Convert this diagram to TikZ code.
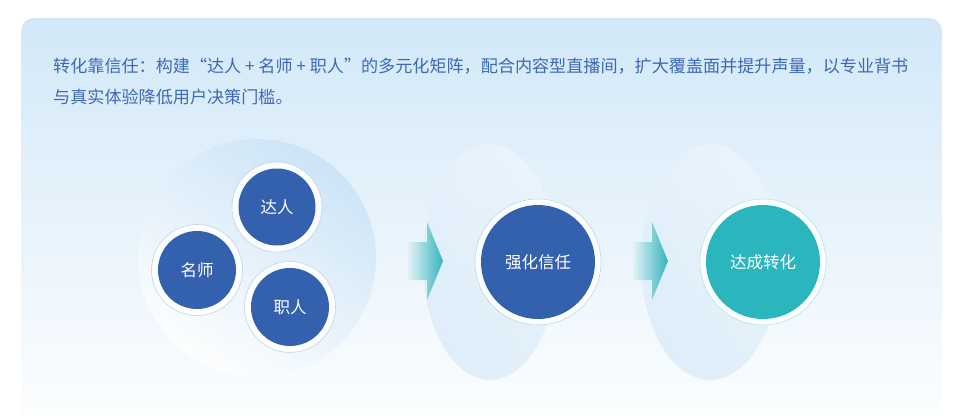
\documentclass[tikz,border=0pt]{standalone}
\usepackage{fontspec}
\setmainfont{Noto Sans CJK SC}

\definecolor{deepblue}{HTML}{3461AD}
\definecolor{tealcore}{HTML}{2BB5BD}
\definecolor{textblue}{HTML}{3D69B5}
\definecolor{paneltop}{HTML}{D2E8F8}
\definecolor{panelmid}{HTML}{E7F3FC}
\definecolor{haloblue}{HTML}{C9E3F7}
\definecolor{ringline}{HTML}{C3D5E6}
\definecolor{arrowtip}{HTML}{34B4BE}
\definecolor{arrowtail}{HTML}{E3F2F8}

\tikzset{
    intro/.style={anchor=base west, text=textblue, inner sep=0pt,
        font=\fontsize{17.1}{20}\selectfont},
    ring/.style={circle, fill=white, fill opacity=0.9, draw=ringline, line width=0.6pt, inner sep=0pt},
    core/.style={circle, fill=deepblue, text=white, inner sep=0pt,
        font=\fontsize{16.5}{20}\selectfont},
    halo/.style={left color=panelmid!60!white, right color=haloblue, shading angle=-30, fill opacity=0.5},
    arrowbody/.style={left color=arrowtail, right color=arrowtip}
}

\begin{document}
\begin{tikzpicture}[x=1pt, y=-1pt]
    \useasboundingbox (0,0) rectangle (960,417);
    % panel
    \path[rounded corners=13pt, top color=paneltop, middle color=panelmid, bottom color=white]
        (21,18) rectangle (942,445);

    % intro text
    \node[intro] (line1) at (53,73) {转化靠信任：构建“达人 + 名师 + 职人”的多元化矩阵，配合内容型直播间，扩大覆盖面并提升声量，以专业背书};
    \node[intro] (line2) at (53,104) {与真实体验降低用户决策门槛。};

    % halos
    \shade[top color=haloblue, bottom color=white, shading angle=-35, fill opacity=0.85] (257,258) circle (119);
    \shade[halo] (490,262) ellipse (67 and 118);
    \shade[halo] (710,262) ellipse (69 and 118);

    % matrix of three
    \node[ring, minimum size=90] (daren-ring) at (277,207) {};
    \node[core, minimum size=77] (daren) at (daren-ring) {达人};
    \node[ring, minimum size=91] (mingshi-ring) at (197,270) {};
    \node[core, minimum size=78] (mingshi) at (mingshi-ring) {名师};
    \node[ring, minimum size=91] (zhiren-ring) at (290,307) {};
    \node[core, minimum size=78] (zhiren) at (zhiren-ring) {职人};

    % steps
    \node[ring, minimum size=126] (xinren-ring) at (538,262) {};
    \node[core, minimum size=114] (xinren) at (xinren-ring) {强化信任};
    \node[ring, minimum size=126, draw=tealcore!35] (zhuanhua-ring) at (763,262) {};
    \node[core, minimum size=114, fill=tealcore] (zhuanhua) at (zhuanhua-ring) {达成转化};

    % arrows
    \coordinate (arrow1) at (425,261);
    \coordinate (arrow2) at (650,261);
    \foreach \a in {arrow1, arrow2}
        \shade[arrowbody] (\a) ++(-17,-19) -- ++(19,0) -- ++(0,-20) -- ++(16,39)
            -- ++(-16,39) -- ++(0,-20) -- ++(-19,0) -- cycle;
\end{tikzpicture}
\end{document}
